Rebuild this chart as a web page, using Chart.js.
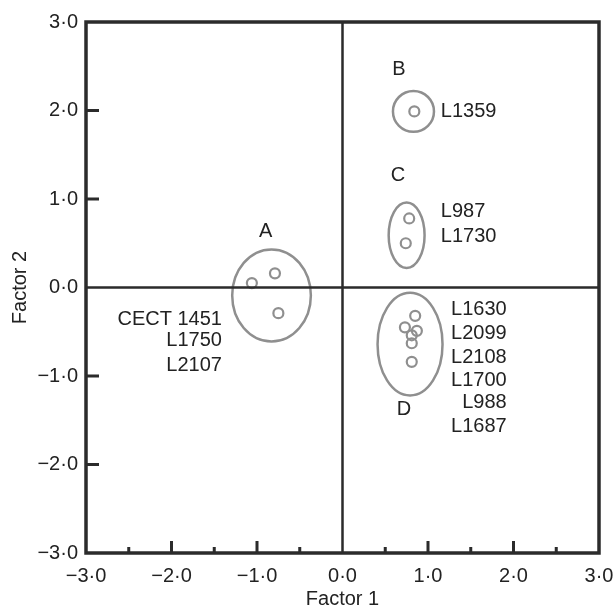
<!DOCTYPE html>
<html>
<head>
<meta charset="utf-8">
<script src="https://cdn.jsdelivr.net/npm/chart.js@4.4.0/dist/chart.umd.min.js"></script>
<style>
  html, body { margin: 0; padding: 0; background: #fff; }
</style>
</head>
<body>
<canvas id="chart" width="613" height="611"></canvas>
<script>
// factor scores of each strain
const pointsX = [-1.06, -0.79, -0.75, 0.84, 0.78, 0.74, 0.85, 0.73, 0.87, 0.81, 0.81, 0.81];
const pointsY = [0.05, 0.16, -0.29, 1.99, 0.78, 0.50, -0.32, -0.45, -0.49, -0.54, -0.63, -0.84];

// clusters (centre and half-widths in factor units)
const groupNames = ['A', 'B', 'C', 'D'];
const groupX = [-0.83, 0.83, 0.75, 0.79];
const groupY = [-0.09, 1.99, 0.59, -0.64];
const groupRX = [0.46, 0.24, 0.21, 0.38];
const groupRY = [0.52, 0.23, 0.37, 0.58];
const groupLabelX = [-0.90, 0.66, 0.65, 0.72];
const groupLabelY = [0.63, 2.46, 1.27, -1.38];

// strain names
const strainNames = ['CECT 1451', 'L1750', 'L2107', 'L1359', 'L987', 'L1730',
                     'L1630', 'L2099', 'L2108', 'L1700', 'L988', 'L1687'];
const strainX = [-1.41, -1.41, -1.41, 1.15, 1.15, 1.15, 1.92, 1.92, 1.92, 1.92, 1.92, 1.92];
const strainY = [-0.36, -0.60, -0.88, 1.99, 0.86, 0.58, -0.25, -0.52, -0.79, -1.05, -1.30, -1.57];
const strainAlign = ['right', 'right', 'right', 'left', 'left', 'left',
                     'right', 'right', 'right', 'right', 'right', 'right'];

const axisMin = -3;
const axisMax = 3;

const FONT = "'Liberation Sans', Arial, sans-serif";
const TEXT = '#222';
const LINE = '#2b2b2b';
const MARK = '#8f8f8f';

function fmt(v) {
    const s = Math.abs(v).toFixed(1).replace('.', '\u00b7');
    return v < 0 ? '\u2212' + s : s;
}

const decorations = {
    id: 'decorations',
    afterDatasetsDraw(chart) {
        const { ctx, chartArea: a, scales: { x, y } } = chart;
        ctx.save();

        // clusters
        ctx.strokeStyle = MARK;
        ctx.lineWidth = 2.5;
        groupNames.forEach((g, i) => {
            const cx = x.getPixelForValue(groupX[i]);
            const cy = y.getPixelForValue(groupY[i]);
            const rx = Math.abs(x.getPixelForValue(groupX[i] + groupRX[i]) - cx);
            const ry = Math.abs(y.getPixelForValue(groupY[i] + groupRY[i]) - cy);
            ctx.beginPath();
            ctx.ellipse(cx, cy, rx, ry, 0, 0, Math.PI * 2);
            ctx.stroke();
        });

        // cross at the origin
        ctx.strokeStyle = LINE;
        ctx.lineWidth = 2.5;
        const x0 = x.getPixelForValue(0);
        const y0 = y.getPixelForValue(0);
        ctx.beginPath();
        ctx.moveTo(x0, a.top); ctx.lineTo(x0, a.bottom);
        ctx.moveTo(a.left, y0); ctx.lineTo(a.right, y0);
        ctx.stroke();

        // frame
        ctx.lineWidth = 3.5;
        ctx.strokeRect(a.left, a.top, a.right - a.left, a.bottom - a.top);

        // inward ticks
        ctx.lineWidth = 3;
        ctx.beginPath();
        for (let v = axisMin + 0.5; v < axisMax; v += 0.5) {
            if (v === 0) continue;
            const px = x.getPixelForValue(v);
            const len = Number.isInteger(v) ? 12 : 6;
            ctx.moveTo(px, a.bottom);
            ctx.lineTo(px, a.bottom - len);
        }
        for (let v = axisMin + 1; v < axisMax; v += 1) {
            if (v === 0) continue;
            const py = y.getPixelForValue(v);
            ctx.moveTo(a.left, py);
            ctx.lineTo(a.left + 13, py);
        }
        ctx.stroke();

        // text
        ctx.fillStyle = TEXT;
        ctx.font = '20px ' + FONT;
        ctx.textBaseline = 'middle';
        ctx.textAlign = 'center';
        groupNames.forEach((g, i) => {
            ctx.fillText(g, x.getPixelForValue(groupLabelX[i]), y.getPixelForValue(groupLabelY[i]));
        });
        strainNames.forEach((s, i) => {
            ctx.textAlign = strainAlign[i];
            ctx.fillText(s, x.getPixelForValue(strainX[i]), y.getPixelForValue(strainY[i]));
        });
        ctx.restore();
    }
};

new Chart(document.getElementById('chart'), {
    type: 'scatter',
    data: {
        datasets: [{
            data: pointsX.map((v, i) => ({ x: v, y: pointsY[i] })),
            pointRadius: 5,
            pointBorderWidth: 2.2,
            pointBorderColor: MARK,
            pointBackgroundColor: 'rgba(255,255,255,0)',
            showLine: false
        }]
    },
    options: {
        responsive: false,
        animation: false,
        devicePixelRatio: 1,
        layout: { padding: { left: 0, right: 14, top: 22, bottom: 0 } },
        plugins: { legend: { display: false }, tooltip: { enabled: false } },
        scales: {
            x: {
                type: 'linear',
                min: axisMin,
                max: axisMax,
                ticks: {
                    stepSize: 1,
                    callback: v => fmt(v),
                    color: TEXT,
                    font: { family: FONT, size: 20 },
                    padding: 11,
                    maxRotation: 0
                },
                grid: { display: false, drawTicks: false },
                border: { display: false },
                title: {
                    display: true,
                    text: 'Factor 1',
                    color: TEXT,
                    font: { family: FONT, size: 20 },
                    padding: { top: 0, bottom: 0 }
                },
                afterFit(s) {
                    s.height = 58;
                    s.paddingLeft = 0;
                    s.paddingRight = 0;
                }
            },
            y: {
                type: 'linear',
                min: axisMin,
                max: axisMax,
                ticks: {
                    stepSize: 1,
                    callback: v => fmt(v),
                    color: TEXT,
                    font: { family: FONT, size: 20 },
                    padding: 8
                },
                grid: { display: false, drawTicks: false },
                border: { display: false },
                title: {
                    display: true,
                    text: 'Factor 2',
                    color: TEXT,
                    font: { family: FONT, size: 20 },
                    padding: { top: 8, bottom: 0 }
                },
                afterFit(s) {
                    s.width = 86;
                    s.paddingTop = 0;
                    s.paddingBottom = 0;
                }
            }
        }
    },
    plugins: [decorations]
});
</script>
</body>
</html>
